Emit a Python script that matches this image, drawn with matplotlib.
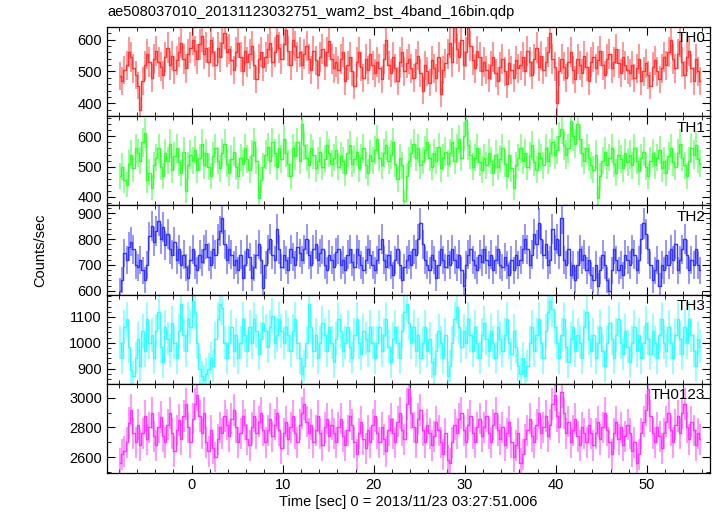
"""
Suzaku WAM burst light curve, 4 energy bands plus sum, 16-bin (0.25 s) resolution.
"""

import numpy as np
import matplotlib.pyplot as plt
from matplotlib.ticker import MultipleLocator

plt.rcParams['font.family'] = ['Liberation Sans', 'DejaVu Sans']

title = "ae508037010_20131123032751_wam2_bst_4band_16bin.qdp"
t_start = -8.0      # sec, left edge of first bin
bin_size = 0.25     # sec

th0 = [
    485, 470, 505, 520, 560, 545, 510, 490, 455, 380, 470, 520, 555, 530, 480, 540,
    565, 530, 515, 490, 545, 575, 520, 550, 505, 535, 560, 590, 540, 510, 555, 575,
    600, 565, 540, 585, 610, 555, 575, 530, 600, 560, 520, 575, 545, 590, 620, 560,
    570, 535, 505, 560, 590, 545, 500, 565, 530, 555, 580, 520, 475, 540, 560, 515,
    545, 570, 590, 530, 560, 615, 575, 540, 585, 630, 565, 520, 600, 580, 545, 560,
    520, 555, 580, 540, 505, 565, 535, 490, 545, 570, 520, 560, 595, 540, 510, 530,
    505, 540, 560, 470, 520, 545, 500, 455, 530, 560, 515, 480, 540, 505, 555, 520,
    495, 530, 510, 475, 540, 600, 520, 495, 545, 510, 470, 530, 560, 500, 525, 540,
    510, 480, 525, 550, 495, 440, 520, 500, 465, 535, 510, 480, 545, 430, 505, 525,
    555, 590, 530, 640, 570, 545, 600, 520, 560, 635, 580, 535, 510, 565, 545, 500,
    530, 505, 480, 520, 545, 495, 470, 515, 540, 500, 460, 525, 505, 480, 535, 510,
    520, 545, 500, 565, 530, 490, 540, 575, 515, 550, 505, 530, 560, 620, 540, 515,
    400, 500, 540, 515, 480, 530, 560, 505, 475, 540, 520, 495, 550, 515, 470, 530,
    545, 510, 535, 565, 520, 490, 540, 555, 510, 530, 570, 525, 495, 545, 520, 505,
    495, 520, 480, 510, 540, 470, 500, 525, 490, 455, 515, 535, 500, 475, 510, 545,
    520, 560, 600, 540, 510, 555, 595, 530, 490, 545, 565, 510, 470, 540, 500, 470,
]

th1 = [
    470, 500, 455, 440, 510, 540, 495, 560, 545, 520, 580, 610, 455, 480, 430, 505,
    530, 560, 500, 470, 545, 520, 575, 490, 535, 560, 515, 480, 550, 420, 505, 540,
    520, 555, 490, 530, 575, 505, 545, 500, 470, 535, 560, 520, 495, 545, 575, 510,
    480, 525, 550, 500, 470, 530, 510, 560, 525, 490, 540, 580, 520, 395, 455, 500,
    540, 565, 520, 580, 545, 500, 560, 525, 590, 545, 510, 470, 560, 535, 580, 520,
    640, 570, 530, 505, 560, 540, 495, 520, 550, 500, 525, 570, 545, 510, 530, 555,
    500, 535, 520, 480, 545, 570, 510, 525, 550, 495, 530, 560, 505, 480, 540, 520,
    555, 590, 530, 505, 545, 570, 520, 540, 580, 510, 460, 530, 505, 385, 470, 520,
    545, 575, 530, 560, 505, 520, 555, 580, 530, 500, 545, 520, 565, 495, 530, 550,
    510, 545, 580, 520, 560, 590, 530, 600, 655, 570, 540, 500, 530, 560, 515, 490,
    530, 505, 545, 520, 480, 540, 500, 525, 560, 510, 470, 540, 495, 430, 505, 530,
    560, 520, 545, 500, 535, 570, 515, 490, 545, 530, 505, 560, 520, 545, 580, 540,
    555, 600, 625, 570, 540, 560, 650, 600, 575, 640, 590, 545, 520, 560, 530, 505,
    490, 540, 395, 470, 520, 550, 505, 530, 560, 510, 480, 540, 525, 495, 545, 515,
    540, 505, 560, 520, 485, 530, 550, 500, 470, 520, 545, 505, 530, 555, 495, 520,
    480, 535, 560, 515, 500, 545, 575, 530, 505, 470, 520, 560, 540, 570, 525, 510,
]

th2 = [
    600, 640, 745, 720, 770, 790, 760, 700, 690, 720, 680, 640, 700, 810, 850, 790,
    830, 870, 800, 845, 775, 820, 760, 740, 790, 720, 760, 700, 740, 690, 650, 720,
    760, 700, 680, 740, 710, 760, 780, 730, 700, 760, 740, 800, 830, 880, 780, 720,
    760, 740, 700, 720, 680, 740, 650, 700, 760, 730, 650, 690, 740, 780, 720, 610,
    700, 760, 800, 740, 720, 840, 760, 690, 740, 720, 680, 760, 730, 700, 770, 745,
    720, 760, 800, 740, 700, 760, 780, 720, 745, 760, 700, 680, 740, 720, 690, 750,
    760, 700, 720, 680, 740, 760, 710, 690, 760, 740, 700, 680, 720, 760, 740, 700,
    680, 720, 760, 800, 720, 690, 740, 700, 660, 720, 760, 700, 640, 690, 720, 740,
    700, 760, 740, 800, 860, 780, 720, 700, 680, 740, 720, 650, 700, 760, 720, 690,
    740, 700, 760, 720, 690, 740, 680, 620, 700, 740, 760, 720, 700, 680, 740, 710,
    760, 720, 700, 740, 680, 720, 760, 700, 690, 730, 700, 660, 720, 680, 740, 700,
    720, 760, 800, 760, 700, 740, 820, 780, 860, 800, 740, 780, 700, 720, 840, 760,
    800, 740, 880, 720, 700, 760, 660, 700, 640, 700, 760, 720, 740, 680, 720, 660,
    640, 700, 620, 680, 740, 700, 640, 600, 680, 760, 720, 680, 700, 660, 740, 720,
    700, 760, 740, 680, 720, 800, 860, 820, 760, 700, 640, 680, 720, 620, 700, 680,
    740, 700, 760, 720, 780, 680, 720, 760, 800, 740, 680, 720, 700, 760, 700, 680,
]

th3 = [
    1000, 940, 1060, 1090, 985, 895, 870, 940, 1015, 910, 1045, 970, 1090, 1000, 1030, 940,
    1045, 1120, 985, 925, 1060, 1015, 970, 1075, 1000, 940, 1045, 1150, 1030, 970, 1090, 1060,
    1160, 1120, 1000, 900, 870, 855, 880, 900, 940, 910, 1015, 1090, 1150, 1135, 1000, 940,
    1000, 1060, 970, 1030, 940, 1000, 1090, 1030, 970, 1060, 1000, 1090, 1045, 955, 1015, 1075,
    1045, 985, 1060, 1105, 1000, 1030, 1090, 1045, 1000, 1060, 1030, 970, 1045, 1090, 1000, 940,
    880, 910, 1000, 1150, 1060, 970, 1030, 940, 1000, 1075, 1030, 970, 1060, 1000, 925, 1015,
    1090, 1045, 970, 1000, 1060, 985, 940, 1030, 1090, 1000, 955, 1045, 1015, 970, 1060, 1000,
    940, 1000, 1060, 970, 1030, 1090, 985, 925, 1015, 1060, 1000, 940, 1045, 1120, 1150, 1075,
    1000, 1060, 970, 1030, 940, 1000, 1060, 970, 1015, 925, 880, 970, 1045, 1000, 940, 1030,
    870, 910, 1000, 1090, 1140, 1060, 985, 1045, 1000, 1090, 1030, 970, 1060, 1000, 940, 1030,
    1075, 1015, 970, 1045, 1000, 940, 1060, 1015, 970, 1030, 1090, 1000, 955, 1045, 985, 910,
    880, 940, 870, 910, 1000, 1060, 970, 1030, 1090, 1000, 940, 1045, 1120, 1160, 1130, 1060,
    1000, 940, 1030, 1090, 985, 925, 1015, 1060, 970, 1030, 1000, 940, 1060, 1120, 1015, 970,
    1030, 940, 1000, 1060, 970, 910, 1000, 1075, 1015, 940, 1030, 1090, 1000, 955, 1045, 985,
    925, 1000, 1060, 970, 1030, 940, 1000, 1075, 1015, 955, 1045, 1000, 940, 1030, 1090, 1000,
    970, 1060, 1000, 940, 1030, 1090, 1015, 955, 1060, 1000, 1090, 1030, 970, 910, 1015, 985,
]

th0123 = [
    2560, 2620, 2640, 2700, 2830, 2920, 2760, 2700, 2820, 2680, 2760, 2880, 2720, 2800, 2900, 2740,
    2680, 2800, 2870, 2740, 2700, 2820, 2900, 2760, 2640, 2780, 2850, 2720, 2880, 2960, 2800, 2700,
    2860, 2960, 3020, 2880, 2760, 2900, 2700, 2640, 2780, 2660, 2600, 2720, 2800, 2760, 2880, 2820,
    2740, 2860, 2920, 2800, 2700, 2760, 2880, 2820, 2720, 2680, 2800, 2880, 2760, 2840, 2900, 2780,
    2700, 2780, 2860, 2740, 2820, 2900, 2780, 2660, 2760, 2840, 2720, 2800, 2880, 2760, 2700, 2820,
    2900, 2960, 2840, 2760, 2820, 2700, 2780, 2880, 2760, 2680, 2800, 2860, 2740, 2820, 2760, 2700,
    2800, 2860, 2740, 2680, 2780, 2880, 2820, 2700, 2620, 2760, 2840, 2720, 2660, 2780, 2700, 2820,
    2880, 2760, 2700, 2800, 2720, 2640, 2780, 2860, 2760, 2700, 2840, 2900, 2780, 2720, 2960, 3060,
    2900, 2800, 2700, 2860, 2920, 2780, 2700, 2820, 2760, 2680, 2740, 2840, 2780, 2700, 2620, 2760,
    2580, 2560, 2700, 2820, 2760, 2860, 2900, 2780, 2700, 2820, 2880, 2760, 2700, 2800, 2860, 2740,
    2800, 2880, 2760, 2700, 2820, 2900, 2780, 2720, 2800, 2680, 2760, 2840, 2700, 2600, 2680, 2760,
    2560, 2620, 2720, 2780, 2860, 2740, 2700, 2820, 2900, 2760, 2800, 2880, 2740, 2820, 2960, 3020,
    2880, 2800, 3040, 2900, 2760, 2840, 2700, 2780, 2860, 2740, 2680, 2800, 2760, 2700, 2820, 2760,
    2680, 2760, 2840, 2720, 2800, 2900, 2780, 2700, 2620, 2760, 2840, 2720, 2800, 2680, 2740, 2820,
    2760, 2640, 2700, 2560, 2620, 2760, 2840, 2920, 3060, 2880, 2760, 2700, 2800, 2740, 2660, 2760,
    2840, 2900, 2780, 2700, 2820, 2880, 2760, 2900, 2960, 2800, 2720, 2840, 2780, 2680, 2760, 2720,
]

bands = ["TH0", "TH1", "TH2", "TH3", "TH0123"]
series = [th0, th1, th2, th3, th0123]
colors = ["#ff3333", "#33ff33", "#3333ff", "#33ffff", "#ff33ff"]
ylims = [(360, 640), (372, 667), (585, 930), (841, 1186), (2493, 3093)]
ymajor = [100, 100, 100, 100, 200]
yminor = [20, 20, 20, 20, 100]


def main():
    fig, axes = plt.subplots(5, 1, sharex=True, figsize=(7.17, 5.16), dpi=100)
    fig.subplots_adjust(left=0.149, right=0.990, top=0.948, bottom=0.083, hspace=0)

    for ax, name, y, c, yl, ma, mi in zip(axes, bands, series, colors, ylims, ymajor, yminor):
        y = np.array(y, dtype=float)
        t = t_start + bin_size * (np.arange(len(y)) + 0.5)
        # Poisson errors on the count rate
        err = np.sqrt(y / bin_size)
        ax.errorbar(t, y, yerr=err, fmt="none", ecolor=c, elinewidth=1.2, alpha=0.6)
        ax.step(t, y, where="mid", color=c, lw=1.0)
        ax.set_ylim(*yl)
        ax.yaxis.set_major_locator(MultipleLocator(ma))
        ax.yaxis.set_minor_locator(MultipleLocator(mi))
        ax.xaxis.set_major_locator(MultipleLocator(10))
        ax.xaxis.set_minor_locator(MultipleLocator(2))
        ax.tick_params(which="both", direction="in", top=True, right=True,
                       labelsize=10.5, colors="black")
        ax.tick_params(which="major", length=6, width=0.8)
        ax.tick_params(which="minor", length=3, width=0.6)
        for s in ax.spines.values():
            s.set_linewidth(0.9)
        ax.text(0.992, 0.95, name, transform=ax.transAxes, ha="right", va="top",
                fontsize=11)

    axes[-1].set_xlim(-9.3, 56.9)
    axes[-1].set_xlabel("Time [sec] 0 = 2013/11/23 03:27:51.006", fontsize=10.5, labelpad=2)
    fig.text(0.056, 0.515, "Counts/sec", rotation=90, ha="center", va="center",
             fontsize=10.5)
    fig.text(0.150, 0.976, title, ha="left", va="center", fontsize=10.5)

    fig.savefig("out.png", dpi=100)


if __name__ == "__main__":
    main()
